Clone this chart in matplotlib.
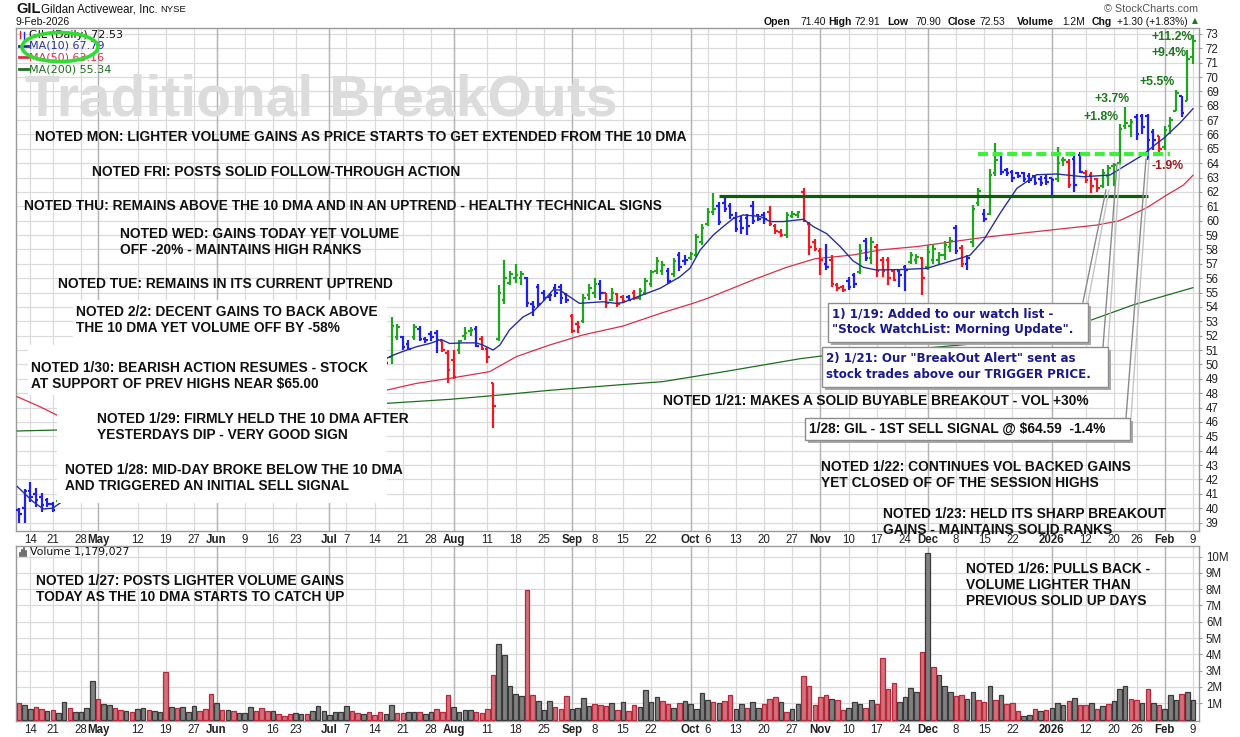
import numpy as np
import pandas as pd
import matplotlib
matplotlib.use("Agg")
import matplotlib.pyplot as plt
from matplotlib.patches import Rectangle, Ellipse
from matplotlib.lines import Line2D
from matplotlib.collections import LineCollection

plt.rcParams['font.family'] = ['Liberation Sans', 'DejaVu Sans']

# trading calendar shown on the chart
first_day, last_day = "2025-04-10", "2026-02-09"
holidays = ["2025-04-18", "2025-05-26", "2025-06-19", "2025-07-04", "2025-09-01",
            "2025-11-27", "2025-12-25", "2026-01-01", "2026-01-19"]

# price bars, first visible piece (left edge)
seg1_start = "2025-04-10"
seg1_open = [39.9, 40.0, 41.2, 41.0, 40.8, 40.6, 40.3, 40.5]
seg1_high = [40.0, 41.3, 41.8, 41.4, 41.05, 40.7, 40.4, 40.6]
seg1_low = [39.0, 39.0, 40.4, 40.1, 39.7, 40.1, 39.7, 40.5]
seg1_close = [39.6, 41.2, 40.8, 40.6, 40.2, 40.3, 39.9, 40.6]
seg1_col = "bbbbbbbg"

# price bars, main visible piece (Jul 16 2025 -> Feb 9 2026)
seg2_start = "2025-07-16"
seg2_open = [50.2, 50.5, 51.9, 51.9, 51.4, 51.9, 52.5, 51.8, 52.1, 52.2,
             51.6, 50.8, 50.3, 51.0, 52.0, 52.3, 52.5, 51.8, 51.1, 48.7,
             51.8, 54.5, 55.7, 56.0, 56.0, 56.0, 54.2, 55.4, 55.0, 54.7,
             55.3, 55.4, 54.9, 53.4, 52.8, 53.0, 54.8, 55.0, 55.6, 55.0,
             54.5, 54.9, 54.7, 54.7, 55.0, 54.6, 55.0, 55.6, 56.5, 56.5,
             56.5, 56.3, 57.6, 57.2, 57.4, 57.6, 58.5, 59.8, 60.6, 61.0,
             61.2, 61.0, 60.2, 60.0, 60.2, 61.0, 60.4, 60.4, 60.6, 59.6,
             59.2, 59.0, 60.3, 60.4, 62.0, 59.8, 58.5, 57.9, 57.0, 57.3,
             55.5, 55.4, 55.8, 56.2, 56.4, 58.6, 57.4, 58.2, 57.3, 57.3,
             56.5, 56.5, 56.8, 57.1, 57.3, 57.4, 56.8, 57.3, 57.3, 57.6,
             58.2, 59.5, 58.1, 57.0, 58.5, 61.2, 60.5, 60.5, 63.3, 64.6,
             63.5, 63.4, 63.3, 63.3, 63.1, 63.1, 62.9, 63.0, 63.0, 62.9,
             64.2, 64.1, 64.3, 64.6, 63.3, 63.2, 62.9, 62.4, 63.1, 63.8,
             64.0, 66.6, 66.6, 67.2, 67.3, 67.3, 66.2, 65.9, 65.1, 66.6,
             67.6, 68.7, 68.3, 71.40]
seg2_high = [50.4, 53.3, 52.8, 52.0, 51.7, 52.8, 52.7, 51.9, 52.3, 52.4,
             51.7, 51.0, 51.0, 51.7, 52.6, 52.6, 52.7, 52.0, 51.2, 48.7,
             55.5, 57.3, 56.5, 57.0, 56.5, 56.1, 54.4, 55.6, 55.2, 55.0,
             55.6, 55.6, 55.0, 53.5, 53.0, 54.9, 55.6, 56.0, 55.9, 55.0,
             55.3, 55.0, 54.8, 54.8, 55.2, 55.3, 56.0, 56.6, 57.5, 57.2,
             56.7, 57.4, 57.8, 57.6, 57.8, 59.1, 59.8, 60.9, 61.9, 61.3,
             61.6, 61.2, 60.6, 60.3, 60.5, 61.4, 60.5, 60.6, 61.0, 59.8,
             59.4, 60.6, 60.7, 60.7, 62.3, 59.9, 58.7, 58.1, 58.4, 57.6,
             55.65, 55.5, 56.1, 56.35, 58.4, 58.8, 58.9, 58.4, 57.5, 57.5,
             56.6, 56.6, 56.9, 57.85, 57.7, 57.5, 58.3, 58.4, 57.8, 58.6,
             58.9, 59.7, 58.3, 57.6, 61.1, 62.25, 60.8, 63.6, 65.4, 64.7,
             63.7, 63.5, 63.4, 63.4, 63.3, 63.2, 63.1, 63.2, 63.0, 65.1,
             64.4, 64.3, 64.5, 64.8, 63.5, 63.4, 63.0, 63.6, 63.9, 64.0,
             66.7, 67.9, 67.1, 67.4, 67.4, 67.4, 66.4, 65.9, 66.6, 67.2,
             69.1, 68.7, 71.9, 72.91]
seg2_low = [49.9, 50.0, 51.7, 51.0, 51.0, 51.7, 51.6, 51.5, 51.6, 50.8,
            50.9, 48.7, 49.0, 50.7, 51.7, 52.0, 51.2, 51.0, 50.1, 45.6,
            51.6, 54.2, 55.5, 55.7, 55.5, 54.0, 53.4, 54.0, 54.4, 54.4,
            54.7, 54.2, 54.3, 52.2, 52.2, 52.9, 54.5, 54.6, 54.5, 53.9,
            54.4, 54.0, 54.3, 54.4, 54.5, 54.5, 54.8, 55.4, 56.3, 56.2,
            55.6, 56.1, 56.5, 56.9, 57.3, 57.5, 58.3, 59.6, 60.4, 59.7,
            60.6, 60.1, 59.2, 59.1, 59.0, 59.8, 60.0, 59.8, 59.6, 59.1,
            58.9, 58.8, 60.2, 60.2, 59.9, 57.6, 57.9, 56.2, 56.6, 55.4,
            55.1, 55.05, 55.2, 55.3, 56.3, 57.2, 57.0, 56.1, 56.1, 55.5,
            55.8, 55.4, 55.1, 57.0, 57.0, 54.85, 56.6, 57.0, 56.9, 57.3,
            57.8, 57.7, 56.8, 56.6, 58.2, 61.0, 59.9, 60.4, 63.1, 63.2,
            63.1, 62.7, 63.0, 62.7, 62.6, 62.5, 62.4, 62.5, 61.7, 62.7,
            63.8, 62.3, 62.0, 63.3, 62.6, 61.9, 62.0, 62.3, 62.4, 62.4,
            63.9, 66.4, 65.8, 65.6, 66.0, 64.2, 64.9, 64.5, 64.9, 66.0,
            67.6, 67.2, 68.3, 70.90]
seg2_close = [50.1, 52.7, 52.6, 51.2, 51.1, 52.6, 51.8, 51.7, 51.9, 51.7,
              51.0, 49.6, 49.1, 51.6, 52.2, 52.4, 51.3, 51.1, 50.5, 47.1,
              55.0, 56.0, 56.3, 56.2, 56.3, 54.3, 54.0, 54.2, 54.6, 54.8,
              55.0, 54.6, 54.5, 52.3, 52.6, 54.6, 55.3, 55.6, 55.0, 54.3,
              55.0, 54.2, 54.4, 54.5, 54.6, 55.1, 55.8, 56.4, 57.2, 56.9,
              55.8, 57.2, 56.8, 57.3, 57.7, 58.9, 59.5, 60.6, 60.8, 59.9,
              60.8, 60.4, 59.4, 59.5, 59.6, 60.0, 60.1, 60.1, 59.8, 59.3,
              59.0, 60.4, 60.5, 60.6, 60.0, 58.2, 58.0, 57.3, 56.8, 55.6,
              55.3, 55.2, 55.4, 55.6, 57.9, 57.4, 58.5, 56.5, 56.5, 56.0,
              55.9, 56.2, 56.6, 57.6, 57.5, 56.0, 57.8, 58.0, 57.6, 58.3,
              58.6, 57.9, 57.0, 57.4, 60.8, 62.1, 60.1, 63.2, 64.2, 63.4,
              63.3, 63.0, 63.1, 62.9, 62.8, 62.6, 62.6, 62.7, 62.8, 64.0,
              64.2, 62.5, 62.5, 63.4, 62.8, 62.4, 62.3, 63.3, 63.7, 63.9,
              66.4, 66.8, 66.9, 66.0, 66.5, 65.6, 65.6, 65.0, 66.3, 67.0,
              68.9, 67.5, 71.23, 72.53]
seg2_col = "".join(["bggbbgbbbb", "rrrgggbrrr", "gggggbbbbb", "bbbrrgggbr",
                    "grrbrggggg", "bgbbgggggb", "bbbbbbbbrr", "rgggrrrrbr",
                    "rrbbgbgrrr", "rbbggrgggg", "gbrbggbggb", "bbbbbbbbbg",
                    "grbbrrrggg", "gggbbbbrgg", "gbgg"])

# daily volume in millions, r = down day
volume_m = [1.01, 0.90, 0.66, 0.76, 0.64, 0.53, 0.57, 0.41, 1.06, 0.70,
            0.45, 0.45, 0.70, 2.34, 1.24, 0.94, 0.90, 0.70, 0.57, 0.51,
            0.49, 0.65, 0.71, 0.57, 0.51, 0.45, 2.94, 0.76, 0.70, 0.76,
            0.45, 0.82, 0.55, 0.63, 1.55, 1.00, 0.57, 0.57, 0.51, 0.41,
            0.41, 0.76, 0.53, 0.70, 0.51, 0.51, 0.33, 0.21, 0.33, 0.41,
            0.35, 0.35, 0.51, 0.82, 0.55, 0.27, 0.45, 0.45, 0.82, 0.51,
            0.41, 0.33, 0.45, 0.27, 0.45, 0.35, 0.88, 0.41, 0.41, 0.45,
            0.45, 0.45, 0.35, 0.45, 0.63, 0.45, 1.50, 0.76, 0.45, 0.57,
            0.57, 0.45, 0.41, 0.63, 2.72, 4.64, 3.94, 2.05, 1.55, 1.42,
            7.98, 1.50, 1.12, 0.57, 1.12, 0.76, 0.63, 1.42, 0.63, 0.70,
            1.30, 0.82, 0.94, 0.92, 0.82, 1.00, 0.57, 1.06, 0.51, 0.90,
            0.76, 1.83, 1.06, 1.36, 1.16, 0.94, 0.70, 1.00, 1.12, 0.96,
            0.63, 1.62, 1.18, 1.06, 1.00, 1.12, 1.50, 0.63, 0.94, 0.70,
            1.06, 0.70, 0.94, 1.28, 1.36, 1.06, 0.45, 0.63, 0.94, 2.70,
            2.06, 0.88, 1.36, 1.48, 1.24, 1.18, 0.57, 0.70, 1.06, 0.94,
            0.70, 1.18, 0.94, 3.79, 1.90, 2.27, 1.06, 1.36, 1.96, 1.72,
            4.15, 10.2, 3.24, 2.75, 2.05, 1.66, 1.42, 1.48, 1.24, 1.72,
            1.18, 1.06, 2.05, 1.18, 1.48, 0.96, 1.00, 0.51, 0.21, 0.27,
            0.63, 0.51, 0.57, 0.70, 1.00, 0.88, 1.12, 1.30, 0.88, 0.88,
            1.00, 0.63, 0.82, 0.94, 1.12, 1.90, 2.08, 1.24, 1.18, 1.00,
            1.90, 1.00, 0.88, 0.63, 1.48, 1.18, 1.55, 1.72, 1.18]
volume_col = "".join(["rggrrgrggr", "ggggrggrrg", "rggrggrgrg", "ggrrrgrgrg",
                      "ggrrrgrrrg", "grgggggggr", "rgrrrggrrg", "grggrrrggg",
                      "grrrrggggg", "rrgggrrrgg", "ggrrrgrgrr", "ggggrrgrgg",
                      "gggrgrrggr", "ggrrrgrggr", "rrrrgrrggg", "rgrrrrgggg",
                      "rgrgggrrgg", "rrgrgrrrgg", "rgrgggrgrr", "grgrgggrrg",
                      "rgrgggrgg"])

# moving averages (x in trading-day index)
ma10_x = [-0.3, 2.5, 4.3, 6.0, 7.3, 8.0, np.nan, 65, 66.3, 68, 70.4, 72.8, 74.8,
          76.3, 78.7, 81, 82.2, 84, 85.2, 86.9, 89.3, 91.1, 92.8, 94.6, 95.8,
          97.6, 99.3, 101.1, 103.5, 105.8, 107, 110, 113.6, 117.1, 118.9, 120.7,
          123, 124.8, 126.6, 128.3, 131.3, 133.1, 135.4, 139, 140.7, 143.1, 145.5,
          147.8, 149.6, 151.9, 156, 160.8, 166.7, 168.5, 170.9, 173.8, 176.8,
          180.3, 183.9, 188.6, 193.3, 195.7, 198.6, 199.8, 201.6, 202.8, 205.7, 208]
ma10_y = [41.5, 40.45, 39.94, 40.0, 40.36, 40.6, np.nan, 50.4, 50.65, 50.9, 51.23,
          51.46, 51.74, 51.46, 51.5, 51.5, 51.35, 51.0, 51.35, 52.4, 53.3, 53.67,
          54.36, 55.18, 55.18, 54.7, 54.25, 54.3, 54.36, 54.25, 54.3, 54.77, 55.3,
          56.1, 56.7, 57.97, 59.0, 59.6, 60.17, 60.4, 60.3, 59.94, 59.94, 60.1,
          59.6, 59.1, 58.2, 57.2, 56.76, 56.57, 56.6, 56.68, 57.38, 57.6, 58.65,
          60.5, 62.25, 63.2, 63.25, 63.06, 63.18, 63.76, 64.45, 64.8, 65.38,
          65.73, 66.8, 67.79]
ma50_x = [-0.3, 3.7, 7.3, np.nan, 65, 70.4, 76.3, 83.4, 88.1, 94, 99.9, 107, 114,
          119, 122, 130.5, 136, 141, 147.8, 152.6, 159.1, 170.9, 182.7, 191, 195,
          199.8, 203, 206.3, 208]
ma50_y = [47.75, 47.06, 46.36, np.nan, 48.2, 48.68, 49.03, 49.5, 50.54, 51.35, 52.05,
          52.67, 53.6, 54.2, 54.6, 55.95, 56.76, 57.35, 57.62, 57.97, 58.2, 58.84,
          59.35, 59.7, 60.0, 60.9, 61.7, 62.48, 63.16]
ma200_x = [-0.3, 7.3, np.nan, 65, 76.3, 85.2, 94, 107, 114, 125, 138.4, 142.5, 155,
           173.8, 185, 189.2, 197.4, 208]
ma200_y = [45.37, 45.44, np.nan, 47.29, 47.57, 47.87, 48.2, 48.6, 48.8, 49.5, 50.4,
           50.6, 50.95, 51.59, 52.5, 52.98, 54.14, 55.34]

pivot_level, pivot_from, pivot_to = 61.7, "2025-10-08", "2026-01-28"
trigger_level, trigger_from, trigger_to = 64.64, "2025-12-12", "2026-02-03"

tick_dates = ["2025-04-14", "2025-04-21", "2025-04-28", "2025-05-01", "2025-05-12",
              "2025-05-19", "2025-05-27", "2025-06-02", "2025-06-09", "2025-06-16",
              "2025-06-23", "2025-07-01", "2025-07-07", "2025-07-14", "2025-07-21",
              "2025-07-28", "2025-08-01", "2025-08-11", "2025-08-18", "2025-08-25",
              "2025-09-02", "2025-09-08", "2025-09-15", "2025-09-22", "2025-10-01",
              "2025-10-06", "2025-10-13", "2025-10-20", "2025-10-27", "2025-11-03",
              "2025-11-10", "2025-11-17", "2025-11-24", "2025-12-01", "2025-12-08",
              "2025-12-15", "2025-12-22", "2026-01-02", "2026-01-12", "2026-01-20",
              "2026-01-26", "2026-02-02", "2026-02-09"]
tick_labels = ["14", "21", "28", "May", "12", "19", "27", "Jun", "9", "16", "23", "Jul",
               "7", "14", "21", "28", "Aug", "11", "18", "25", "Sep", "8", "15", "22",
               "Oct", "6", "13", "20", "27", "Nov", "10", "17", "24", "Dec", "8", "15",
               "22", "2026", "12", "20", "26", "Feb", "9"]
month_labels = {"May", "Jun", "Jul", "Aug", "Sep", "Oct", "Nov", "Dec", "2026", "Feb"}

notes = [
    (35, 137, "NOTED MON: LIGHTER VOLUME GAINS AS PRICE STARTS TO GET EXTENDED FROM THE 10 DMA"),
    (92, 172, "NOTED FRI: POSTS SOLID FOLLOW-THROUGH ACTION"),
    (24, 206, "NOTED THU: REMAINS ABOVE THE 10 DMA AND IN AN UPTREND - HEALTHY TECHNICAL SIGNS"),
    (120, 234, "NOTED WED: GAINS TODAY YET VOLUME\nOFF -20% - MAINTAINS HIGH RANKS"),
    (58, 284, "NOTED TUE: REMAINS IN ITS CURRENT UPTREND"),
    (76, 312, "NOTED 2/2: DECENT GAINS TO BACK ABOVE\nTHE 10 DMA YET VOLUME OFF BY -58%"),
    (31, 368, "NOTED 1/30: BEARISH ACTION RESUMES - STOCK\nAT SUPPORT OF PREV HIGHS NEAR $65.00"),
    (97, 419, "NOTED 1/29: FIRMLY HELD THE 10 DMA AFTER\nYESTERDAYS DIP - VERY GOOD SIGN"),
    (65, 470, "NOTED 1/28: MID-DAY BROKE BELOW THE 10 DMA\nAND TRIGGERED AN INITIAL SELL SIGNAL"),
    (663, 401, "NOTED 1/21: MAKES A SOLID BUYABLE BREAKOUT - VOL +30%"),
    (821, 467, "NOTED 1/22: CONTINUES VOL BACKED GAINS\nYET CLOSED OF OF THE SESSION HIGHS"),
    (883, 514, "NOTED 1/23: HELD ITS SHARP BREAKOUT\nGAINS - MAINTAINS SOLID RANKS"),
    (36, 581, "NOTED 1/27: POSTS LIGHTER VOLUME GAINS\nTODAY AS THE 10 DMA STARTS TO CATCH UP"),
    (966, 569, "NOTED 1/26: PULLS BACK -\nVOLUME LIGHTER THAN\nPREVIOUS SOLID UP DAYS"),
]
gains = [("+11.2%", 1172, 37), ("+9.4%", 1169, 53), ("+5.5%", 1157, 82),
         ("+3.7%", 1112, 99), ("+1.8%", 1101, 117), ("-1.9%", 1168, 166)]

# ---- figure ----
W, H = 1240, 737
fig = plt.figure(figsize=(W / 100, H / 100), dpi=100)
fig.patch.set_facecolor("white")


def fxy(x, y):
    return x / W, 1 - y / H


def frect(x0, y0, x1, y1):
    return [x0 / W, 1 - y1 / H, (x1 - x0) / W, (y1 - y0) / H]


ax = fig.add_axes(frect(16, 28, 1199, 531))
axv = fig.add_axes(frect(16, 546, 1199, 721))

days = pd.bdate_range(first_day, last_day)
days = days[~days.isin(pd.to_datetime(holidays))]
pos = {d.strftime("%Y-%m-%d"): k for k, d in enumerate(days)}

bar_colors = {"g": "#1fa51f", "b": "#2020ee", "r": "#ee1a22"}
grid_c = "#dadada"

for a in (ax, axv):
    a.set_xlim(-0.53, len(days) - 1 + 1.07)
    a.set_facecolor("white")
    for s in a.spines.values():
        s.set_color("#9a9a9a")
        s.set_linewidth(1)
    a.set_axisbelow(True)
    a.grid(True, color=grid_c, lw=0.9)
    tpos = [pos[d] for d in tick_dates]
    a.set_xticks(tpos)
    a.set_xticklabels(tick_labels)
    for lab in a.get_xticklabels():
        lab.set_fontweight("bold" if lab.get_text() in month_labels else "normal")
        lab.set_fontsize(8.3)
        lab.set_color("#222222")
    for t, l in zip(tpos, tick_labels):
        if l in month_labels:
            a.axvline(t, color="#b5b5b5", lw=1, zorder=0.6)
    a.yaxis.tick_right()
    a.tick_params(axis="x", length=0, pad=2)
    a.tick_params(axis="y", length=2, color="#9a9a9a", pad=3, labelsize=8.3,
                  labelcolor="#222222")

ax.set_ylim(38.41, 73.41)
ax.set_yticks(range(39, 74))
axv.set_ylim(-0.09, 10.65)
axv.set_yticks(range(1, 11))
axv.set_yticklabels([f"{k}M" for k in range(1, 11)])

# watermark
ax.text(*fxy(25, 100), "Traditional BreakOuts", transform=fig.transFigure,
        fontsize=41, fontweight="bold", color="#dcdcdc", va="center", ha="left", zorder=1)


def draw_bars(start, o, h, l, c, cols):
    k0 = pos[start]
    segs, colors = [], []
    for k in range(len(o)):
        x = k0 + k
        col = bar_colors[cols[k]]
        segs += [[(x, l[k]), (x, h[k])], [(x - 0.45, o[k]), (x, o[k])],
                 [(x, c[k]), (x + 0.45, c[k])]]
        colors += [col] * 3
    ax.add_collection(LineCollection(segs, colors=colors, linewidths=1.6,
                                     capstyle="butt", zorder=4))


draw_bars(seg1_start, seg1_open, seg1_high, seg1_low, seg1_close, seg1_col)
draw_bars(seg2_start, seg2_open, seg2_high, seg2_low, seg2_close, seg2_col)

ax.plot(ma200_x, ma200_y, color="#1e6e1e", lw=0.9, zorder=3)
ax.plot(ma50_x, ma50_y, color="#d8304c", lw=0.9, zorder=3)
ax.plot(ma10_x, ma10_y, color="#26309a", lw=1.0, zorder=5)

ax.plot([pos[pivot_from], pos[pivot_to]], [pivot_level] * 2, color="#0c5c0c",
        lw=2.3, zorder=6, solid_capstyle="butt")
ax.plot([pos[trigger_from], pos[trigger_to]], [trigger_level] * 2, color="#3cf03c",
        lw=3, linestyle=(0, (2.4, 1.1)), zorder=6)

# volume
vx = np.arange(len(volume_m))
vfill = ["#d2707b" if c == "r" else "#808080" for c in volume_col]
vedge = ["#b7283a" if c == "r" else "#3a3a3a" for c in volume_col]
axv.bar(vx, volume_m, width=0.8, color=vfill, edgecolor=vedge, linewidth=0.9, zorder=3)

# white cover blocks over the left part of the price panel
for r in [(73, 300, 387, 345), (28, 345, 387, 395), (57, 395, 387, 503)]:
    rr = frect(*r)
    fig.add_artist(Rectangle(rr[:2], rr[2], rr[3], transform=fig.transFigure,
                             facecolor="white", edgecolor="none", zorder=1))

# leader lines from the boxes to the bars
leaders = [((1083, 302), (1106, 190)), ((1103, 347), (1117, 164)), ((1126, 418), (1146, 159))]
for (x0, y0), (x1, y1) in leaders:
    for dx, c in ((0, "#8a8a8a"), (5, "#c4c4c4")):
        fig.add_artist(Line2D([(x0 + dx) / W, (x1 + dx * 0.6) / W], [1 - y0 / H, 1 - y1 / H],
                              transform=fig.transFigure, color=c, lw=1, zorder=1.5))

# framed text boxes
boxes = [
    ((828, 303, 1088, 342), (832, 314), "1) 1/19: Added to our watch list -\n\"Stock WatchList: Morning Update\".", "#1a1a8c", "DejaVu Sans", 8.6),
    ((822, 347, 1108, 387), (826, 358), "2) 1/21: Our \"BreakOut Alert\" sent as\nstock trades above our TRIGGER PRICE.", "#1a1a8c", "DejaVu Sans", 8.6),
    ((805, 418, 1130, 440), (809, 429), "1/28: GIL - 1ST SELL SIGNAL @ $64.59  -1.4%", "#111111", "Liberation Sans", 9.9),
]
for (x0, y0, x1, y1), (tx, ty), txt, col, fam, fs in boxes:
    fig.add_artist(Rectangle(fxy(x0 + 3, y1 + 3), (x1 - x0) / W, (y1 - y0) / H,
                             transform=fig.transFigure, facecolor="#a8a8a8",
                             edgecolor="none", zorder=2))
    fig.add_artist(Rectangle(fxy(x0, y1), (x1 - x0) / W, (y1 - y0) / H,
                             transform=fig.transFigure, facecolor="white",
                             edgecolor="#8c8c8c", lw=1, zorder=2.1))
    for k, line in enumerate(txt.split("\n")):
        fig.text(*fxy(tx, ty + 16 * k), line, fontsize=fs, fontweight="bold",
                 family=fam, color=col, va="center", ha="left", zorder=3)

for x, y, txt in notes:
    for k, line in enumerate(txt.split("\n")):
        fig.text(*fxy(x, y + 16 * k), line, fontsize=9.9, fontweight="bold",
                 color="#111111", va="center", ha="left", zorder=3)

for txt, x, y in gains:
    fig.text(*fxy(x, y), txt, fontsize=8.8, fontweight="bold", ha="center", va="center",
             color="#a01c1c" if txt.startswith("-") else "#1d781d", zorder=3)

# header
fig.text(*fxy(16, 9), "GIL", fontsize=10.5, fontweight="bold", va="center", color="#111")
fig.text(*fxy(41, 9), "Gildan Activewear, Inc.", fontsize=8.3, va="center", color="#111")
fig.text(*fxy(160, 10), "NYSE", fontsize=6.8, va="center", color="#111")
fig.text(*fxy(16, 22), "9-Feb-2026", fontsize=7.5, va="center", color="#111")
fig.text(*fxy(1198, 9), "\u00a9 StockCharts.com", fontsize=7.8, va="center", ha="right",
         color="#555555")
header_parts = [(764, "Open", True), (800, "71.40", False), (828, "High", True),
                (854, "72.91", False), (887, "Low", True), (915, "70.90", False),
                (948, "Close", True), (979, "72.53", False), (1017, "Volume", True),
                (1062, "1.2M", False), (1092, "Chg", True), (1117, "+1.30 (+1.83%)", False)]
for x, txt, b in header_parts:
    fig.text(*fxy(x, 22), txt, fontsize=7.6 if b else 7.4, va="center",
             fontweight="bold" if b else "normal", color="#111")
fig.text(*fxy(1195, 21), "\u25b2", fontsize=5.5, va="center", ha="center", color="#1a7a1a",
         family="DejaVu Sans")

# price legend
legend = [("GIL (Daily) 72.53", "#111111", 35), ("MA(10) 67.79", "#26309a", 46),
          ("MA(50) 63.16", "#d8304c", 57), ("MA(200) 55.34", "#1e6e1e", 69)]
for txt, col, y in legend:
    fig.text(*fxy(29, y), txt, fontsize=8.0, va="center", color=col, family="DejaVu Sans",
             zorder=3)
    if not txt.startswith("GIL"):
        fig.add_artist(Line2D([19 / W, 28 / W], [1 - y / H] * 2, transform=fig.transFigure,
                              color=col, lw=2, zorder=3))
fig.add_artist(Line2D([20 / W, 20 / W], [1 - 31 / H, 1 - 38 / H], transform=fig.transFigure,
                      color="#ee1a22", lw=1, zorder=3))
fig.add_artist(Line2D([24 / W, 24 / W], [1 - 32 / H, 1 - 40 / H], transform=fig.transFigure,
                      color="#2020ee", lw=1, zorder=3))
fig.add_artist(Ellipse(fxy(60, 47), 76 / W, 29 / H, transform=fig.transFigure,
                       facecolor="none", edgecolor="#2fdc2f", lw=2.6, zorder=3.5))

# volume legend
fig.text(*fxy(30, 552), "Volume 1,179,027", fontsize=7.8, va="center", color="#111",
         family="DejaVu Sans")
for k, hh in enumerate([3, 6, 8, 5]):
    fig.add_artist(Line2D([(20 + 2 * k) / W] * 2, [1 - 556 / H, 1 - (556 - hh) / H],
                          transform=fig.transFigure, color="#555", lw=1.2, zorder=3))

fig.savefig("out.png", dpi=100, facecolor="white")
